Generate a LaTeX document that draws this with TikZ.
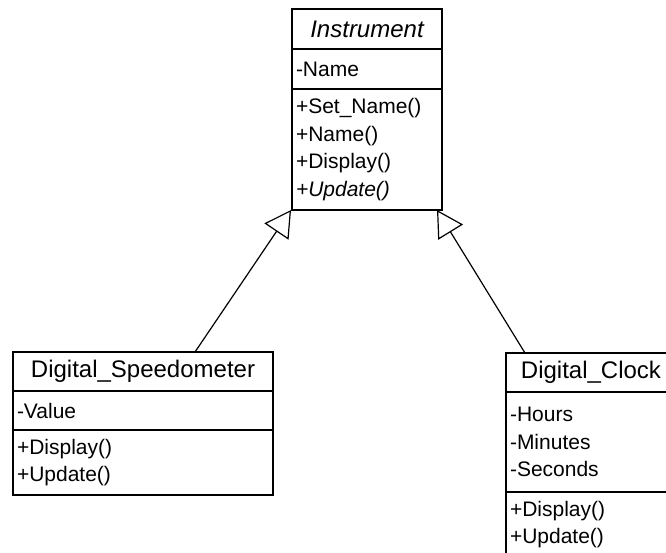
\documentclass[tikz,border=0pt]{standalone}
\usepackage{fontspec}
\setmainfont{Liberation Sans}
\usetikzlibrary{positioning,arrows.meta}

\begin{document}
\begin{tikzpicture}[x = 1pt, y = -1pt,
  box/.style = {draw, line width = 1.5pt, outer sep = 0pt, inner xsep = 4pt,
  inner ysep = 0pt},
  title/.style = {box, font = \fontsize{24}{28}\selectfont, align = center,
  minimum height = 39pt},
  part/.style = {box, font = \fontsize{21}{27.5}\selectfont, align = left},
  inherit/.style = {-{Triangle[open, length = 26pt, width = 29pt]},
  line width = 1.2pt}]
  % fix the canvas
  \useasboundingbox (0, 0) rectangle (666, 552);
  \clip (0, 0) rectangle (666, 552);
  % draw the base class
  \node[title, text width = 142pt, minimum height = 40pt] (inst) at (367, 29)
  {\itshape Instrument};
  \node[part, below = 0pt of inst, text width = 142pt, minimum height = 40pt]
  (inst-attr) {-Name};
  \node[part, below = 0pt of inst-attr, text width = 142pt,
  minimum height = 121pt] (inst-meth)
  {+Set\_Name()\\+Name()\\+Display()\\\textit{+Update()}};
  % draw the speedometer class
  \node[title, text width = 252pt] (spd) at (143, 371.5) {Digital\_Speedometer};
  \node[part, below = 0pt of spd, text width = 252pt, minimum height = 39pt]
  (spd-attr) {-Value};
  \node[part, below = 0pt of spd-attr, text width = 252pt,
  minimum height = 65pt] (spd-meth) {+Display()\\+Update()};
  % draw the clock class
  \node[title, text width = 162pt] (clk) at (591, 372.5) {Digital\_Clock};
  \node[part, below = 0pt of clk, text width = 162pt, minimum height = 100pt]
  (clk-attr) {-Hours\\-Minutes\\-Seconds};
  \node[part, below = 0pt of clk-attr, text width = 162pt,
  minimum height = 65pt] (clk-meth) {+Display()\\+Update()};
  % draw the inheritance arrows
  \draw[inherit] ([xshift = 52pt]spd.north) -- ([xshift = -1pt]inst-meth.south west);
  \draw[inherit] ([xshift = -66pt]clk.north) -- ([xshift = -5pt]inst-meth.south east);
\end{tikzpicture}
\end{document}
